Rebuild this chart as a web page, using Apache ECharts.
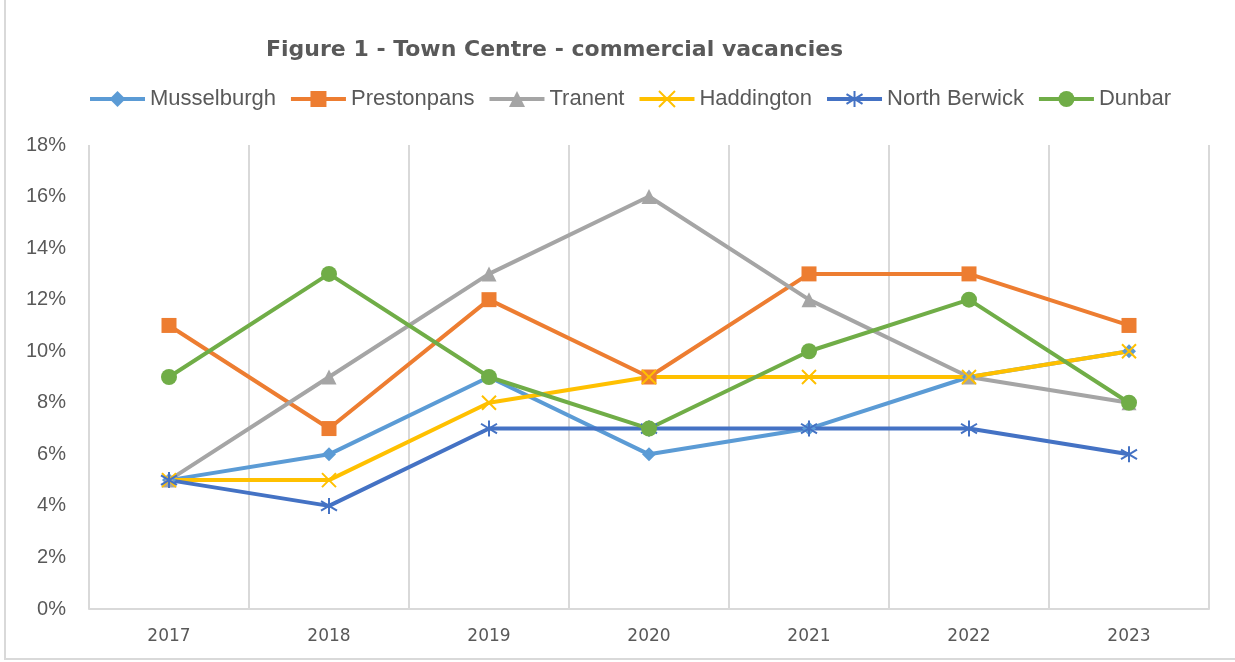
<!DOCTYPE html>
<html>
<head>
<meta charset="utf-8">
<script src="https://cdn.jsdelivr.net/npm/echarts@6/dist/echarts.min.js"></script>
<style>
  html, body { margin: 0; padding: 0; background: #fff; }
  #wrap { position: relative; width: 1235px; height: 662px; }
  #chart { width: 1235px; height: 662px; }
  #frame { position: absolute; left: 4px; top: 0; width: 1231px; height: 660px; box-sizing: border-box;
           border-left: 2px solid #d9d9d9; border-bottom: 2px solid #d9d9d9; pointer-events: none; }
</style>
</head>
<body>
<div id="wrap">
  <div id="chart"></div>
  <div id="frame"></div>
</div>
<script>
const years = ['2017', '2018', '2019', '2020', '2021', '2022', '2023']
const musselburgh = [0.05, 0.06, 0.09, 0.06, 0.07, 0.09, 0.10]
const prestonpans = [0.11, 0.07, 0.12, 0.09, 0.13, 0.13, 0.11]
const tranent = [0.05, 0.09, 0.13, 0.16, 0.12, 0.09, 0.08]
const haddington = [0.05, 0.05, 0.08, 0.09, 0.09, 0.09, 0.10]
const northBerwick = [0.05, 0.04, 0.07, 0.07, 0.07, 0.07, 0.06]
const dunbar = [0.09, 0.13, 0.09, 0.07, 0.10, 0.12, 0.08]

const textColor = '#595959'
const font = 'Liberation Sans'

// x and asterisk markers, drawn as strokes
const crossPath = 'path://M0,0L10,10M10,0L0,10'
const starPath = 'path://M5,0L5,10M0,2L10,8M10,2L0,8'

function line(name, data, color, symbol, size, strokeOnly) {
  return {
    name: name,
    type: 'line',
    data: data,
    symbol: symbol,
    symbolSize: size,
    showAllSymbol: true,
    lineStyle: { color: color, width: 4 },
    itemStyle: strokeOnly
      ? { color: 'none', borderColor: color, borderWidth: 2 }
      : { color: color, borderWidth: 0 },
    emphasis: { disabled: true }
  }
}

const chart = echarts.init(document.getElementById('chart'))
chart.setOption({
  animation: false,
  title: {
    text: 'Figure 1 - Town Centre - commercial vacancies',
    left: 261,
    top: 34,
    textStyle: { color: textColor, fontFamily: 'DejaVu Sans', fontWeight: 'bold', fontSize: 22 }
  },
  legend: {
    top: 83,
    left: 83,
    itemWidth: 55,
    itemHeight: 20,
    itemGap: 13,
    lineStyle: { width: 4 },
    textStyle: { color: textColor, fontFamily: font, fontSize: 22 }
  },
  grid: { left: 89, right: 26, top: 145, bottom: 53 },
  xAxis: {
    type: 'category',
    data: years,
    boundaryGap: true,
    axisLine: { lineStyle: { color: '#d9d9d9', width: 2 } },
    axisTick: { show: false },
    axisLabel: { color: textColor, fontFamily: 'DejaVu Sans', fontSize: 17, margin: 19 },
    splitLine: { show: true, lineStyle: { color: '#d9d9d9', width: 2 } }
  },
  yAxis: {
    type: 'value',
    min: 0,
    max: 0.18,
    interval: 0.02,
    axisLine: { show: false },
    axisTick: { show: false },
    splitLine: { show: false },
    axisLabel: {
      color: textColor,
      fontFamily: font,
      fontSize: 20,
      margin: 23,
      formatter: v => Math.round(v * 100) + '%'
    }
  },
  series: [
    line('Musselburgh', musselburgh, '#5B9BD5', 'diamond', 14),
    line('Prestonpans', prestonpans, '#ED7D31', 'rect', 15),
    line('Tranent', tranent, '#A5A5A5', 'triangle', 15),
    line('Haddington', haddington, '#FFC000', crossPath, 14, true),
    line('North Berwick', northBerwick, '#4472C4', starPath, 16, true),
    line('Dunbar', dunbar, '#70AD47', 'circle', 16)
  ]
})
</script>
</body>
</html>
